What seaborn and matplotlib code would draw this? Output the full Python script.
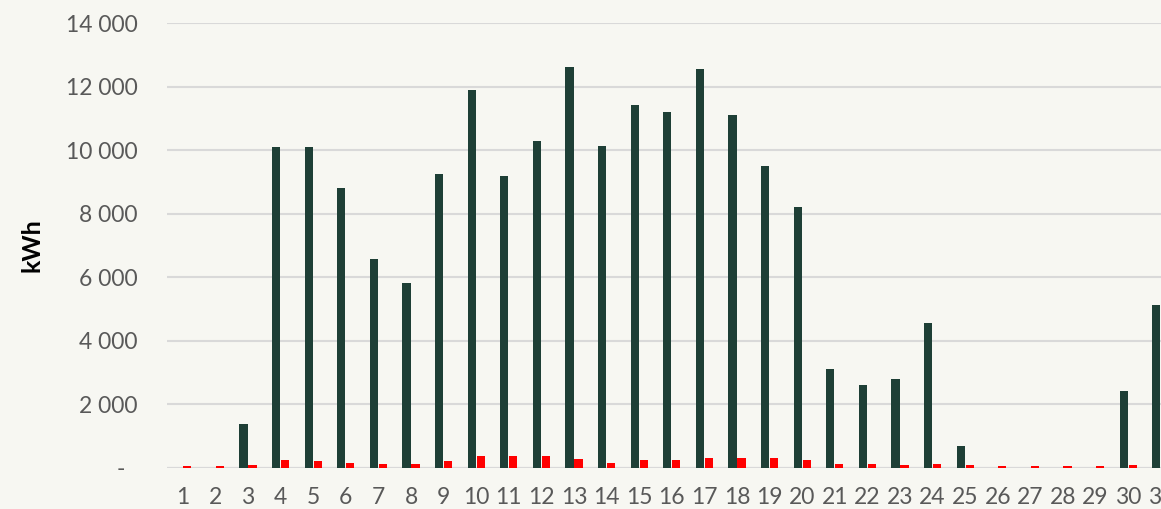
import pandas as pd
import matplotlib
matplotlib.use("Agg")
import matplotlib.pyplot as plt
import seaborn as sns

# ------------------- DATOS ------------------- #

days = [str(d) for d in range(1, 32)]
energy_main = [0, 0, 1390, 10100, 10100, 8800, 6580, 5830, 9260, 11900,
               9180, 10290, 12620, 10130, 11420, 11200, 12550, 11100, 9510, 8200,
               3120, 2600, 2810, 4560, 690, 0, 0, 0, 0, 2410, 5130]
energy_small = [70, 70, 95, 260, 230, 165, 135, 125, 230, 375,
                375, 365, 280, 155, 260, 250, 325, 325, 325, 250,
                125, 115, 105, 130, 95, 70, 70, 70, 70, 105, 150]
y_ticks = [0, 2000, 4000, 6000, 8000, 10000, 12000, 14000]
y_tick_labels = ["-  ", "2 000", "4 000", "6 000", "8 000", "10 000", "12 000", "14 000"]

series_names = ["Serie 1", "Serie 2"]
colors = ["#1E3F36", "#FF0000"]

df = pd.DataFrame({
    "Dag": days * 2,
    "kWh": energy_main + energy_small,
    "Serie": [series_names[0]] * len(days) + [series_names[1]] * len(days),
})

# ------------------- GRÁFICA ------------------- #

bg = "#F7F7F2"
sns.set_style("white")
plt.rcParams["font.family"] = ["Lato", "DejaVu Sans"]

fig = plt.figure(figsize=(11.61, 5.09), dpi=100, facecolor=bg)
ax = fig.add_axes([166.5 / 1161, 41 / 509, 1010.6 / 1161, 445 / 509])
ax.set_facecolor(bg)

sns.barplot(data=df, x="Dag", y="kWh", hue="Serie", hue_order=series_names,
            order=days, palette=colors, saturation=1, width=0.55, gap=0.1,
            linewidth=0, legend=False, ax=ax)

ax.set_xlim(-0.5, 30.5)
ax.set_ylim(0, 14000)
ax.set_yticks(y_ticks)
ax.set_yticklabels(y_tick_labels)
ax.yaxis.grid(True, color="#D9D9D9", linewidth=1.5)
ax.set_axisbelow(True)
for s in ax.spines.values():
    s.set_visible(False)
ax.axhline(0, color="#D9D9D9", linewidth=1.5, zorder=0.5)

ax.tick_params(axis="both", length=0, labelsize=16.5, colors="#595959")
ax.tick_params(axis="y", pad=21)
ax.tick_params(axis="x", pad=14)
ax.set_xlabel("")
ax.set_ylabel("kWh", fontsize=18, fontweight="bold", color="black")
ax.yaxis.set_label_coords(-0.122, 0.5)

plt.savefig("out.png", dpi=100, facecolor=bg)
plt.close()
